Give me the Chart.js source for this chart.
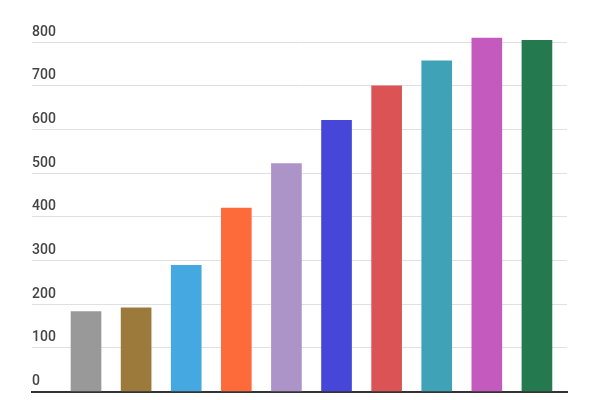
<!DOCTYPE html><html><head><script src="https://cdn.jsdelivr.net/npm/chart.js@4"></script>
<style>body{margin:0;background:#fff}#w{width:600px;height:400px}</style></head><body><div id="w"><canvas id="c"></canvas></div>
<script>
const categories=[1,2,3,4,5,6,7,8,9,10];
const values=[183,192,289,420,522,621,700,757,809,804];
const colors=['#999999','#9c7a3c','#46a8e0','#fd6b3a','#ad94c8','#4646d8','#dc5356','#3fa2b7','#c45abd','#247a4e'];
const yTicks=[0,100,200,300,400,500,600,700,800];
new Chart(document.getElementById('c'),{type:'bar',
data:{datasets:[{data:categories.map((c,i)=>({x:c,y:values[i]})),backgroundColor:colors,barThickness:30}]},
options:{responsive:true,maintainAspectRatio:false,animation:false,
layout:{padding:{left:32,right:33,top:29,bottom:0}},
plugins:{legend:{display:false},tooltip:{enabled:false}},
scales:{
x:{type:'linear',offset:false,min:-0.078,max:10.6,grid:{display:false,drawTicks:false},ticks:{display:false,padding:0},border:{color:'#333',width:2}},
y:{min:0,max:830,afterBuildTicks:a=>{a.ticks=yTicks.map(v=>({value:v}))},
ticks:{mirror:true,padding:0,labelOffset:-10,color:'#444',font:{family:'Roboto',size:14,weight:'500'}},
grid:{color:'#e0e0e0',drawTicks:false},border:{display:false}}}}});
</script></body></html>
